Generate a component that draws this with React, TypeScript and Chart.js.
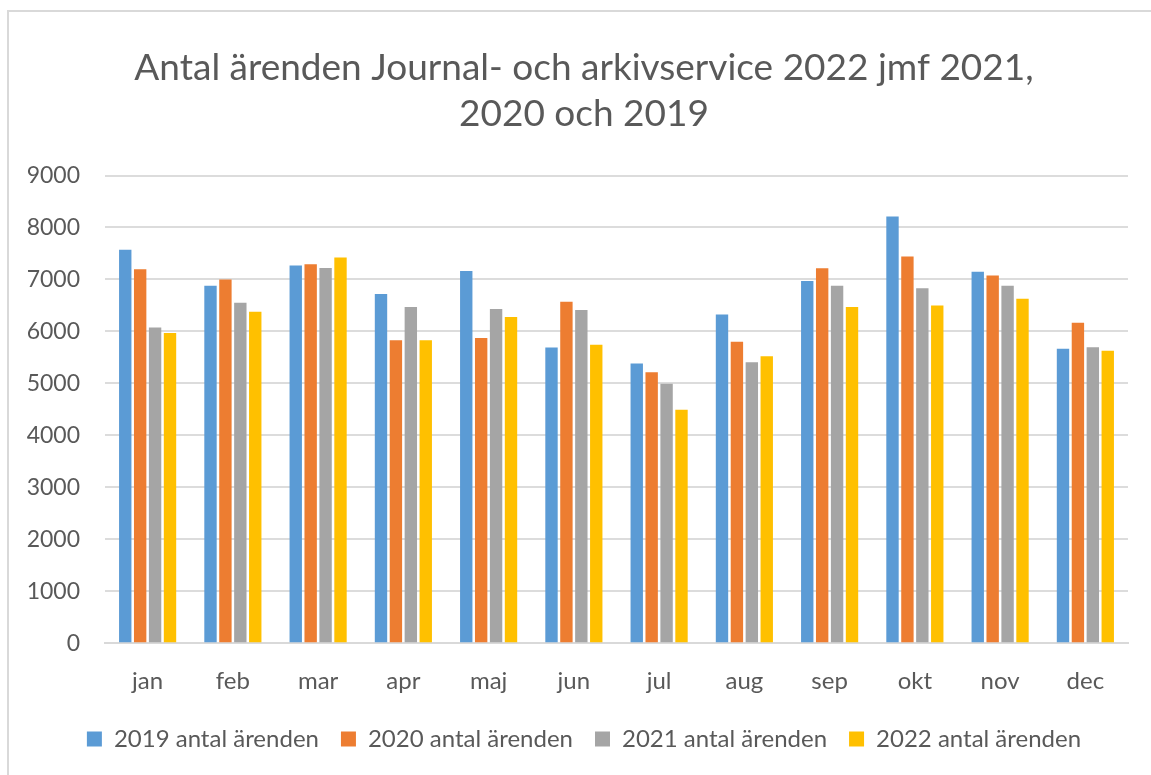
import React, { useEffect, useRef } from "react";
import { Chart, registerables } from "chart.js";

Chart.register(...registerables);

const months = ["jan", "feb", "mar", "apr", "maj", "jun", "jul", "aug", "sep", "okt", "nov", "dec"];
const series2019 = [7570, 6880, 7270, 6720, 7160, 5690, 5380, 6325, 6970, 8210, 7150, 5665];
const series2020 = [7195, 7000, 7290, 5830, 5875, 6570, 5215, 5800, 7215, 7440, 7075, 6165];
const series2021 = [6075, 6550, 7220, 6470, 6430, 6410, 4995, 5405, 6880, 6830, 6880, 5695];
const series2022 = [5970, 6380, 7420, 5830, 6275, 5745, 4490, 5520, 6470, 6500, 6630, 5630];
const seriesLabels = ["2019 antal ärenden", "2020 antal ärenden", "2021 antal ärenden", "2022 antal ärenden"];
const seriesColors = ["#5B9BD5", "#ED7D31", "#A5A5A5", "#FFC000"];
const titleLines = ["Antal ärenden Journal- och arkivservice 2022 jmf 2021,", "2020 och 2019"];

const FONT = "Lato, 'Open Sans', sans-serif";
const TEXT = "#595959";

const widenLabelArea = {
  id: "widenLabelArea",
  afterLayout(chart: any) {
    if (chart.scales.y) chart.scales.y.left = 0;
  },
};

export default function App() {
  const ref = useRef<HTMLCanvasElement | null>(null);

  useEffect(() => {
    if (!ref.current) return;
    const all = [series2019, series2020, series2021, series2022];
    const chart = new Chart(ref.current, {
      type: "bar",
      data: {
        labels: months,
        datasets: all.map((d, i) => ({
          label: seriesLabels[i],
          data: d,
          backgroundColor: seriesColors[i],
          borderWidth: 0,
          barPercentage: 0.83,
          categoryPercentage: 0.7,
        })),
      },
      plugins: [widenLabelArea],
      options: {
        responsive: false,
        animation: false,
        maintainAspectRatio: false,
        layout: { padding: { left: 40, right: 23, top: 0, bottom: 14 } },
        plugins: {
          title: {
            display: true,
            text: titleLines,
            color: TEXT,
            font: { family: FONT, size: 37, weight: "normal", lineHeight: 1.25 },
            padding: { top: 45, bottom: 38 },
          },
          legend: {
            position: "bottom",
            labels: {
              color: TEXT,
              font: { family: FONT, size: 24 },
              boxWidth: 15,
              boxHeight: 15,
              padding: 22,
            },
          },
          tooltip: { enabled: false },
        },
        scales: {
          x: {
            afterFit: (s: any) => {
              s.height -= 15;
            },
            grid: { display: false, drawTicks: false },
            border: { display: true, color: "#D9D9D9", width: 2 },
            ticks: { color: TEXT, font: { family: FONT, size: 24 }, padding: 24 },
          },
          y: {
            min: 0,
            max: 9000,
            afterFit: (s: any) => {
              s.width = 65;
            },
            grid: { color: "#DCDCDC", lineWidth: 2, drawTicks: false },
            border: { display: false },
            ticks: {
              stepSize: 1000,
              color: TEXT,
              font: { family: FONT, size: 23 },
              padding: 25,
              callback: (v: any) => String(v),
            },
          },
        },
      },
    });
    return () => chart.destroy();
  }, []);

  return (
    <div style={{ position: "fixed", left: 0, top: 0, width: 1151, height: 775, background: "#fff", overflow: "hidden" }}>
      <canvas ref={ref} width={1151} height={775} style={{ position: "absolute", left: 0, top: 0 }} />
      <div
        style={{
          position: "absolute",
          left: 7,
          top: 10,
          width: 1200,
          height: 800,
          borderLeft: "2px solid #D9D9D9",
          borderTop: "2px solid #D9D9D9",
          pointerEvents: "none",
        }}
      />
    </div>
  );
}
